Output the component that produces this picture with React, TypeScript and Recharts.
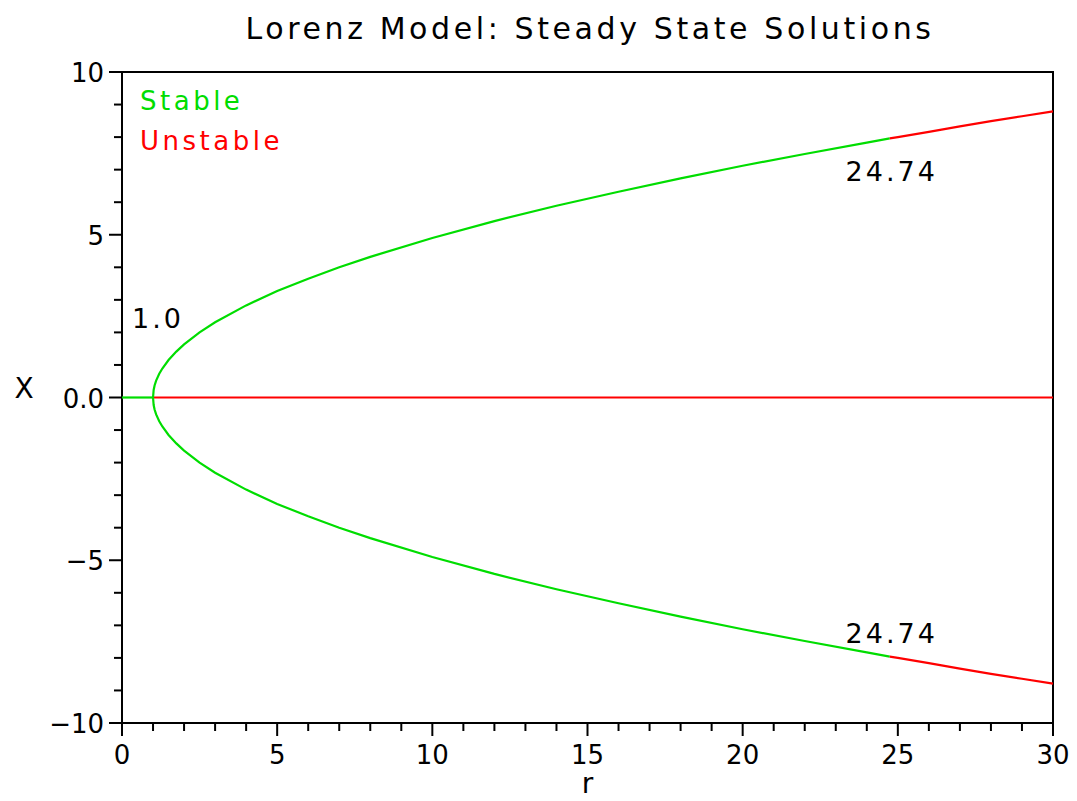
import { ComposedChart, Line, XAxis, YAxis, ReferenceArea, ReferenceDot, Label } from 'recharts'

// steady state branches (r on x, X on y)
const rStable = [1.0, 1.02, 1.05, 1.1, 1.2, 1.3, 1.5, 1.75, 2, 2.5, 3, 4, 5, 6, 7, 8, 10, 12, 14, 16, 18, 20, 22, 24, 24.74]
const xStableUpper = [0, 0.23, 0.37, 0.52, 0.73, 0.89, 1.15, 1.41, 1.63, 2.0, 2.31, 2.83, 3.27, 3.65, 4.0, 4.32, 4.9, 5.42, 5.89, 6.32, 6.73, 7.12, 7.48, 7.83, 7.96]
const xStableLower = [0, -0.23, -0.37, -0.52, -0.73, -0.89, -1.15, -1.41, -1.63, -2.0, -2.31, -2.83, -3.27, -3.65, -4.0, -4.32, -4.9, -5.42, -5.89, -6.32, -6.73, -7.12, -7.48, -7.83, -7.96]
const rUnstable = [24.74, 25, 26, 27, 28, 29, 30]
const xUnstableUpper = [7.96, 8.0, 8.16, 8.33, 8.49, 8.64, 8.79]
const xUnstableLower = [-7.96, -8.0, -8.16, -8.33, -8.49, -8.64, -8.79]
const rOriginStable = [0, 1]
const rOriginUnstable = [1, 30]
const xOrigin = [0, 0]

const rTicks = [0, 1, 2, 3, 4, 5, 6, 7, 8, 9, 10, 11, 12, 13, 14, 15, 16, 17, 18, 19, 20, 21, 22, 23, 24, 25, 26, 27, 28, 29, 30]
const xTicks = [-10, -9, -8, -7, -6, -5, -4, -3, -2, -1, 0, 1, 2, 3, 4, 5, 6, 7, 8, 9, 10]

const FONT = 'DejaVu Sans'
const GREEN = '#00dd00'
const RED = '#ff0000'

const toRows = (r: number[], x: number[]) => r.map((v, i) => ({ r: v, x: x[i] }))

const XTick = (props: any) => {
  const { x, y, payload } = props
  const major = payload.value % 5 === 0
  return (
    <g>
      <line x1={x} x2={x} y1={y} y2={y + (major ? 13 : 8)} stroke="#000" strokeWidth={2} />
      {major && (
        <text x={x} y={y + 41} textAnchor="middle" fontFamily={FONT} fontSize={26} fill="#000">
          {payload.value}
        </text>
      )}
    </g>
  )
}

const yLabel = (v: number) => (v === 0 ? '0.0' : v < 0 ? `\u2212${Math.abs(v)}` : `${v}`)

const YTick = (props: any) => {
  const { x, y, payload } = props
  const major = payload.value % 5 === 0
  return (
    <g>
      <line x1={x - (major ? 13 : 8)} x2={x} y1={y} y2={y} stroke="#000" strokeWidth={2} />
      {major && (
        <text x={x - 18} y={y + 10} textAnchor="end" fontFamily={FONT} fontSize={26} fill="#000">
          {yLabel(payload.value)}
        </text>
      )}
    </g>
  )
}

const note = (text: string, dx: number, dy: number, anchor: string) => (p: any) => (
  <text
    x={p.viewBox.x + dx}
    y={p.viewBox.y + dy}
    textAnchor={anchor}
    fontFamily={FONT}
    fontSize={27}
    letterSpacing={3}
    fill="#000"
  >
    {text}
  </text>
)

export default function App() {
  const lineProps = { type: 'linear' as const, dataKey: 'x', strokeWidth: 2.2, dot: false, isAnimationActive: false }
  return (
    <div style={{ position: 'absolute', left: 0, top: 0, width: 1077, height: 801, background: '#fff' }}>
      <ComposedChart width={1077} height={801} margin={{ top: 72, right: 24, bottom: 18, left: 62 }}>
        <XAxis
          type="number"
          dataKey="r"
          domain={[0, 30]}
          ticks={rTicks}
          interval={0}
          tickSize={0}
          tickMargin={0}
          axisLine={false}
          tick={<XTick />}
          height={60}
        >
          <Label
            content={(p: any) => (
              <text
                x={p.viewBox.x + p.viewBox.width / 2}
                y={p.viewBox.y + 70}
                textAnchor="middle"
                fontFamily={FONT}
                fontSize={28}
                fill="#000"
              >
                r
              </text>
            )}
          />
        </XAxis>
        <YAxis
          type="number"
          domain={[-10, 10]}
          ticks={xTicks}
          interval={0}
          tickSize={0}
          tickMargin={0}
          axisLine={false}
          tick={<YTick />}
          width={60}
        >
          <Label
            content={(p: any) => (
              <text
                x={24}
                y={p.viewBox.y + p.viewBox.height / 2 + 0}
                textAnchor="middle"
                fontFamily={FONT}
                fontSize={28}
                fill="#000"
              >
                X
              </text>
            )}
          />
        </YAxis>
        <ReferenceArea x1={0} x2={30} y1={-10} y2={10} fill="none" stroke="#000" strokeWidth={2} />
        <Line {...lineProps} data={toRows(rOriginUnstable, xOrigin)} stroke={RED} />
        <Line {...lineProps} data={toRows(rOriginStable, xOrigin)} stroke={GREEN} />
        <Line {...lineProps} data={toRows(rStable, xStableUpper)} stroke={GREEN} />
        <Line {...lineProps} data={toRows(rStable, xStableLower)} stroke={GREEN} />
        <Line {...lineProps} data={toRows(rUnstable, xUnstableUpper)} stroke={RED} />
        <Line {...lineProps} data={toRows(rUnstable, xUnstableLower)} stroke={RED} />
        <ReferenceDot x={1} y={0} r={0} fill="none" stroke="none" label={note('1.0', -21, -70, 'start')} />
        <ReferenceDot x={24.74} y={7.96} r={0} fill="none" stroke="none" label={note('24.74', 2, 43, 'middle')} />
        <ReferenceDot x={24.74} y={-7.96} r={0} fill="none" stroke="none" label={note('24.74', 2, -14, 'middle')} />
      </ComposedChart>
      <svg
        width={1077}
        height={801}
        style={{ position: 'absolute', left: 0, top: 0, pointerEvents: 'none' }}
      >
        <text x={590} y={39} textAnchor="middle" fontFamily={FONT} fontSize={30} letterSpacing={3.6} fill="#000">
          Lorenz Model: Steady State Solutions
        </text>
        <text x={140} y={110} fontFamily={FONT} fontSize={26} letterSpacing={3.5} fill={GREEN}>
          Stable
        </text>
        <text x={140} y={150} fontFamily={FONT} fontSize={26} letterSpacing={3.5} fill={RED}>
          Unstable
        </text>
      </svg>
    </div>
  )
}
